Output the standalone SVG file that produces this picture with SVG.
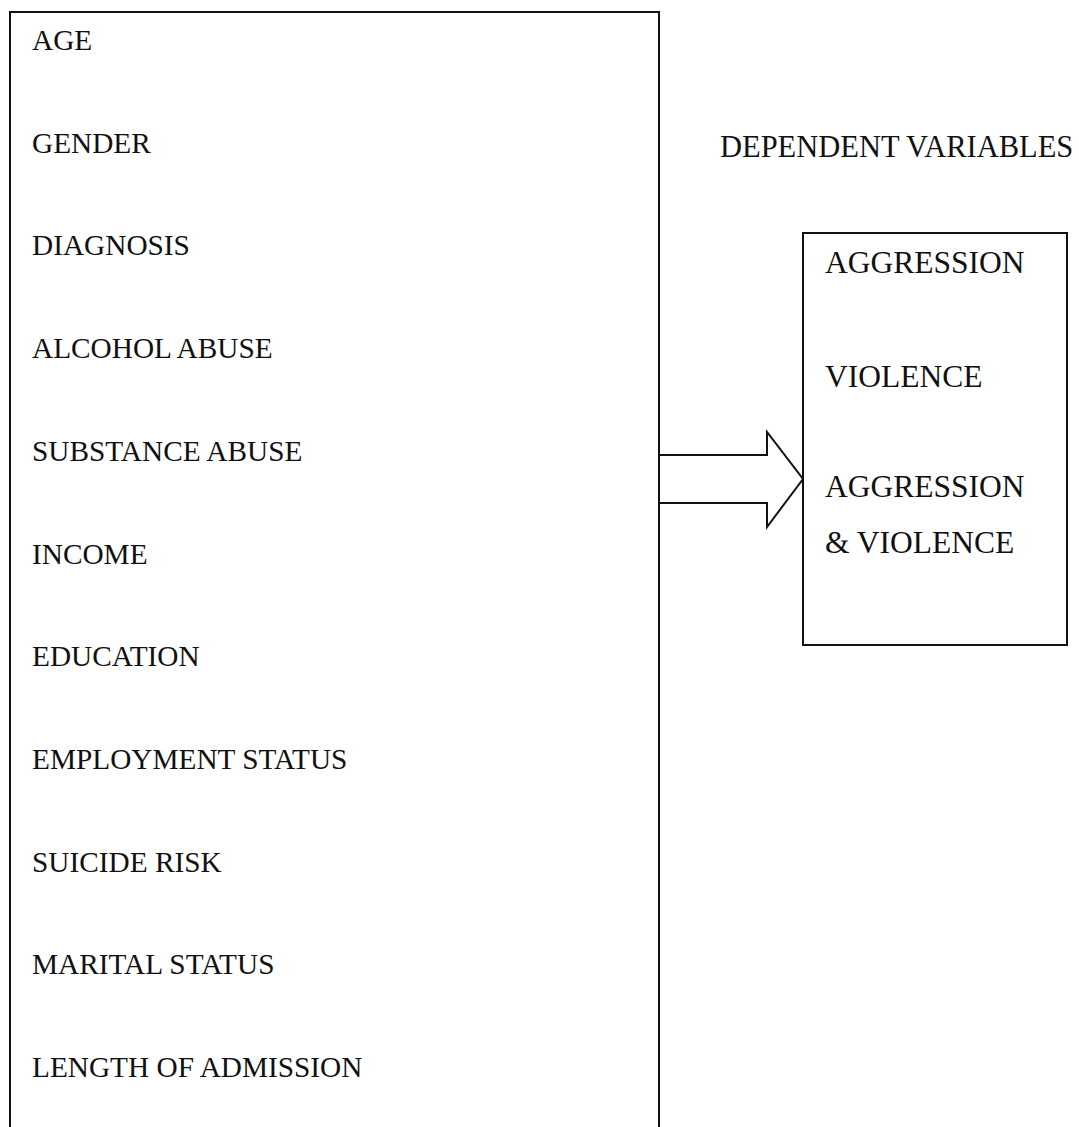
<svg xmlns="http://www.w3.org/2000/svg" width="1079" height="1127" viewBox="0 0 1079 1127">
<style>
.box{fill:none;stroke:#111;stroke-width:2}
.t{font-family:"Liberation Serif","Times New Roman",serif;fill:#111;font-size:29.3px}
.r{font-size:31.5px}
.conn{fill:#fff;stroke:#111;stroke-width:2;stroke-linejoin:miter}
</style>
<rect width="1079" height="1127" fill="#fff"/>
<g id="independent">
<rect class="box" x="10" y="12" width="649" height="1130"/>
<text class="t" x="32" y="50">AGE</text>
<text class="t" x="32" y="152.7">GENDER</text>
<text class="t" x="32" y="255.4">DIAGNOSIS</text>
<text class="t" x="32" y="358.1">ALCOHOL ABUSE</text>
<text class="t" x="32" y="460.8">SUBSTANCE ABUSE</text>
<text class="t" x="32" y="563.5">INCOME</text>
<text class="t" x="32" y="666.2">EDUCATION</text>
<text class="t" x="32" y="768.9">EMPLOYMENT STATUS</text>
<text class="t" x="32" y="871.6">SUICIDE RISK</text>
<text class="t" x="32" y="974.3">MARITAL STATUS</text>
<text class="t" x="32" y="1077">LENGTH OF ADMISSION</text>
</g>
<g id="dependent-label">
<text class="t" x="720" y="157" style="font-size:30.5px">DEPENDENT VARIABLES</text>
</g>
<g id="dependent">
<rect class="box" x="803" y="233" width="264" height="412"/>
<text class="t r" x="825" y="273">AGGRESSION</text>
<text class="t r" x="825" y="387">VIOLENCE</text>
<text class="t r" x="825" y="497">AGGRESSION</text>
<text class="t r" x="825" y="553">&amp; VIOLENCE</text>
</g>
<g id="connectors">
<polyline class="conn" points="660,455 767,455 767,432 803,479 767,527 767,503 660,503"/>
</g>
</svg>
